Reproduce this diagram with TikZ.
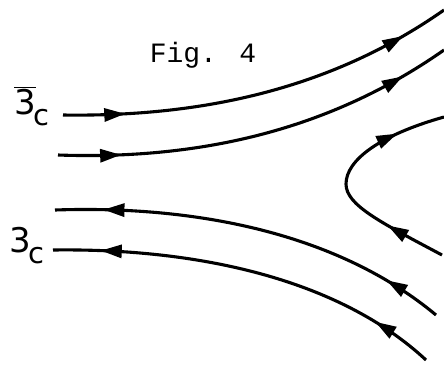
\documentclass[tikz,border=0pt]{standalone}
\usepackage{fontspec}
\setmainfont{DejaVu Sans}
\newfontfamily\figfont{Liberation Mono}
\usetikzlibrary{arrows.meta,decorations.markings}
\newcommand{\subc}{\kern-2pt\raisebox{-11pt}{\fontsize{29}{30}\selectfont c}}
\begin{document}
\begin{tikzpicture}[x=1pt,y=-1pt,
  flow/.style={line width=3.1pt},
  twoarr/.style 2 args={postaction={decorate},decoration={markings,
     mark=at position #1 with {\arrow{Triangle[length=21pt,width=13pt]}},
     mark=at position #2 with {\arrow{Triangle[length=21pt,width=13pt]}}}},
  lab/.style={font=\fontsize{34}{36}\selectfont, inner sep=0pt, anchor=base west}]
\useasboundingbox (0,0) rectangle (444,368);
\node[font=\figfont\fontsize{28}{30}\selectfont] (title) at (203,55) {Fig. 4};
\node[lab] (lbar) at (14,114) {$\overline{\mbox{3}}$\subc};
\node[lab] (lthree) at (9,252) {3\subc};
% outgoing (antitriplet)
\draw[flow,twoarr={0.155}{0.88}] (63,115) .. controls (200,117) and (330,90) .. (444,10);
\draw[flow,twoarr={0.155}{0.88}] (58,155) .. controls (200,160) and (330,130) .. (444,50);
% turning line
\draw[flow,twoarr={0.25}{0.80}] (442,255) .. controls (380,222) and (346,205) .. (346,184)
   .. controls (346,160) and (380,135) .. (444,117);
% incoming (triplet)
\draw[flow,twoarr={0.15}{0.88}] (436,315) .. controls (340,235) and (200,205) .. (55,210);
\draw[flow,twoarr={0.16}{0.88}] (426,360) .. controls (340,280) and (200,248) .. (53,250);
\end{tikzpicture}
\end{document}
